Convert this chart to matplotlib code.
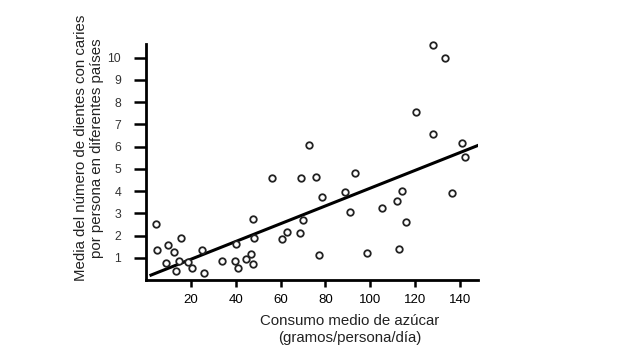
import matplotlib
matplotlib.use('Agg')
import matplotlib.pyplot as plt

plt.rcParams['font.family'] = ['Liberation Sans', 'DejaVu Sans']

# sugar consumption (g/person/day) vs mean decayed teeth per person
sugar = [4.6, 4.8, 8.9, 9.8, 12.4, 15.8, 13.5, 14.7, 18.9, 20.4,
         25.1, 25.9, 33.9, 39.7, 41.2, 40.3, 44.5, 46.7, 47.9, 48.2,
         47.8, 56.1, 60.8, 62.9, 68.6, 70.0, 69.1, 75.9, 78.4, 77.1,
         72.8, 127.8, 133.3, 120.5, 128.0, 140.8, 142.3, 93.2, 88.8, 90.8,
         105.4, 114.2, 111.9, 116.1, 136.6, 98.3, 112.9]
caries = [2.51, 1.33, 0.76, 1.58, 1.24, 1.88, 0.42, 0.86, 0.83, 0.52,
          1.35, 0.31, 0.85, 0.86, 0.55, 1.62, 0.94, 1.17, 0.70, 1.88,
          2.74, 4.57, 1.84, 2.17, 2.11, 2.69, 4.57, 4.64, 3.74, 1.13,
          6.08, 10.58, 9.97, 7.53, 6.55, 6.15, 5.55, 4.82, 3.96, 3.04,
          3.23, 4.02, 3.53, 2.62, 3.93, 1.21, 1.38]

# trend line end points
line_x = [2.2, 148.5]
line_y = [0.22, 6.07]

xticks = [20, 40, 60, 80, 100, 120, 140]
yticks = [1, 2, 3, 4, 5, 6, 7, 8, 9, 10]

fig = plt.figure(figsize=(6.36, 3.53), dpi=100)
ax = fig.add_axes([0.2296, 0.2068, 0.522, 0.668])

ax.plot(line_x, line_y, color='black', lw=2.2, zorder=2)
ax.scatter(sugar, caries, s=22, facecolors='white', edgecolors='#222222',
           linewidths=1.3, zorder=3, clip_on=False)

ax.set_xlim(0, 148)
ax.set_ylim(0, 10.6)
ax.set_xticks(xticks)
ax.set_yticks(yticks)
ax.tick_params(axis='x', length=5, width=1.8, pad=5, labelsize=9.5, colors='black')
ax.tick_params(axis='y', length=9, width=1.8, pad=9, labelsize=8.8, colors='black')
for lbl in ax.get_yticklabels():
    lbl.set_color('#333333')

for side in ['top', 'right']:
    ax.spines[side].set_visible(False)
for side in ['left', 'bottom']:
    ax.spines[side].set_linewidth(2)
    ax.spines[side].set_color('black')

ax.set_xlabel('Consumo medio de azúcar\n(gramos/persona/día)', fontsize=10.8,
              color='#222222', linespacing=1.25)
ax.xaxis.set_label_coords(0.614, -0.145)
ax.set_ylabel('Media del número de dientes con caries\npor persona en diferentes países',
              fontsize=10.8, color='#222222', linespacing=1.12)
ax.yaxis.set_label_coords(-0.128, 0.56)

fig.savefig('out.png', dpi=100)
